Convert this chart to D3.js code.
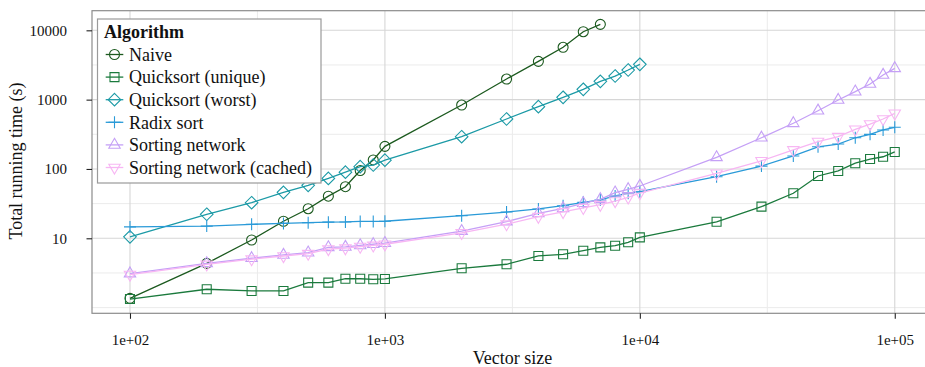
<!DOCTYPE html>
<html>
<head>
<meta charset="utf-8">
<script src="https://cdn.jsdelivr.net/npm/d3@7"></script>
<style>
  html, body { margin: 0; padding: 0; background: #fff; }
  svg { display: block; font-family: "Liberation Serif", "Times New Roman", serif; }
</style>
</head>
<body>
<svg id="chart" width="925" height="367"></svg>
<script>
// Vector sizes measured
const sizesSmall = [100, 200, 300, 400, 500, 600, 700, 800, 900, 1000,
  2000, 3000, 4000, 5000, 6000, 7000, 8000, 9000, 10000];
const sizesLarge = [20000, 30000, 40000, 50000, 60000, 70000, 80000, 90000, 100000];
const sizesAll = sizesSmall.concat(sizesLarge);
const sizesNaive = sizesSmall.slice(0, 16);   // up to 7000

// Total running time (s) per algorithm
const naive = [1.36, 4.35, 9.45, 17.6, 26.7, 40.5, 55.5, 95, 135, 212,
  836, 1983, 3570, 5690, 9550, 12200];
const quicksortUnique = [1.33, 1.84, 1.74, 1.74, 2.29, 2.29, 2.61, 2.61, 2.56, 2.59,
  3.69, 4.22, 5.56, 5.88, 6.62, 7.4, 7.82, 8.75, 10.3,
  17.3, 28.6, 44.6, 79.2, 93.6, 121, 139, 150, 176];
const quicksortWorst = [10.5, 22.2, 32.6, 46, 58, 73, 90, 108, 114, 134,
  292, 526, 791, 1081, 1410, 1837, 2191, 2675, 3234];
const radixSort = [14.6, 15.0, 15.9, 16.4, 16.8, 17.1, 17.2, 17.5, 17.5, 17.6,
  21.2, 23.9, 26.5, 29.5, 33, 35.7, 40.8, 44.6, 47,
  77.4, 110, 154, 209, 229, 282, 316, 365, 399];
const sortingNetwork = [3.1, 4.35, 5.15, 5.75, 6.2, 7.4, 7.5, 7.9, 8.2, 8.5,
  12.7, 17.4, 22.9, 27.1, 32, 36.5, 45.5, 50.9, 56.8,
  147, 282, 456, 692, 988, 1303, 1682, 2270, 2830];
const sortingNetworkCached = [3.0, 4.2, 5.0, 5.55, 6.0, 7.0, 7.2, 7.6, 7.9, 8.2,
  12.0, 16.0, 20.5, 24.0, 27.5, 30.5, 34.5, 39, 45,
  86.7, 131, 188, 248, 292, 373, 445, 526, 635];

const seriesNames = ["Naive", "Quicksort (unique)", "Quicksort (worst)",
  "Radix sort", "Sorting network", "Sorting network (cached)"];

const xTicks = [100, 1000, 10000, 100000];
const xTickLabels = ["1e+02", "1e+03", "1e+04", "1e+05"];
const yTicks = [10, 100, 1000, 10000];
const yTickLabels = ["10", "100", "1000", "10000"];

const series = [
  { name: seriesNames[0], xs: sizesNaive, ys: naive, color: "#1c5a1f", shape: "circle" },
  { name: seriesNames[1], xs: sizesAll, ys: quicksortUnique, color: "#1b7a3d", shape: "square" },
  { name: seriesNames[2], xs: sizesSmall, ys: quicksortWorst, color: "#1c9aa6", shape: "diamond" },
  { name: seriesNames[3], xs: sizesAll, ys: radixSort, color: "#2a9ad8", shape: "plus" },
  { name: seriesNames[4], xs: sizesAll, ys: sortingNetwork, color: "#c5a0f6", shape: "triUp" },
  { name: seriesNames[5], xs: sizesAll, ys: sortingNetworkCached, color: "#f7b6f3", shape: "triDown" }
];

const svg = d3.select("#chart");
const panel = { left: 92, top: 10.7, right: 933, bottom: 313.3 };

const x = d3.scaleLog()
  .domain([Math.pow(10, 1.851), Math.pow(10, 5.15)])
  .range([panel.left, panel.right]);
const y = d3.scaleLog()
  .domain([Math.pow(10, -0.082), Math.pow(10, 4.283)])
  .range([panel.bottom, panel.top]);

// Panel background
svg.append("rect")
  .attr("x", panel.left).attr("y", panel.top)
  .attr("width", panel.right - panel.left).attr("height", panel.bottom - panel.top)
  .attr("fill", "#fff");

// Grid lines: minor at half decades, major at decades
const xMinor = [2.5, 3.5, 4.5].map(e => Math.pow(10, e));
const yMinor = [0, 0.5, 1.5, 2.5, 3.5].map(e => Math.pow(10, e));
const grid = svg.append("g");
grid.selectAll(".xmin").data(xMinor).join("line")
  .attr("x1", d => x(d)).attr("x2", d => x(d))
  .attr("y1", panel.top).attr("y2", panel.bottom)
  .attr("stroke", "#ebebeb").attr("stroke-width", 1);
grid.selectAll(".ymin").data(yMinor).join("line")
  .attr("y1", d => y(d)).attr("y2", d => y(d))
  .attr("x1", panel.left).attr("x2", panel.right)
  .attr("stroke", "#ebebeb").attr("stroke-width", 1);
grid.selectAll(".xmaj").data(xTicks).join("line")
  .attr("x1", d => x(d)).attr("x2", d => x(d))
  .attr("y1", panel.top).attr("y2", panel.bottom)
  .attr("stroke", "#d6d6d6").attr("stroke-width", 1.1);
grid.selectAll(".ymaj").data(yTicks).join("line")
  .attr("y1", d => y(d)).attr("y2", d => y(d))
  .attr("x1", panel.left).attr("x2", panel.right)
  .attr("stroke", "#d6d6d6").attr("stroke-width", 1.1);

// Marker shapes
function markerPath(shape) {
  switch (shape) {
    case "circle": return d3.symbol(d3.symbolCircle, Math.PI * 25)();
    case "square": return "M-4.5,-4.5H4.5V4.5H-4.5Z";
    case "diamond": return "M0,-6.3L6.3,0L0,6.3L-6.3,0Z";
    case "plus": return "M-6,0H6M0,-6V6";
    case "triUp": return "M0,-6.6L5.7,3.3L-5.7,3.3Z";
    case "triDown": return "M0,6.6L5.7,-3.3L-5.7,-3.3Z";
  }
}

const clipId = "panel-clip";
svg.append("clipPath").attr("id", clipId).append("rect")
  .attr("x", panel.left).attr("y", panel.top)
  .attr("width", panel.right - panel.left).attr("height", panel.bottom - panel.top);

const plot = svg.append("g").attr("clip-path", `url(#${clipId})`);
const line = d3.line().x(d => x(d[0])).y(d => y(d[1]));

series.forEach(s => {
  const pts = s.xs.map((v, i) => [v, s.ys[i]]);
  const g = plot.append("g");
  g.append("path")
    .attr("d", line(pts))
    .attr("fill", "none").attr("stroke", s.color).attr("stroke-width", 1.3);
  g.selectAll("path.m").data(pts).join("path")
    .attr("class", "m")
    .attr("transform", d => `translate(${x(d[0])},${y(d[1])})`)
    .attr("d", markerPath(s.shape))
    .attr("fill", "none").attr("stroke", s.color).attr("stroke-width", 1.1);
});

// Panel border
svg.append("rect")
  .attr("x", panel.left).attr("y", panel.top)
  .attr("width", panel.right - panel.left).attr("height", panel.bottom - panel.top)
  .attr("fill", "none").attr("stroke", "#8c8c8c").attr("stroke-width", 1.2);

// Axes
const xAxis = d3.axisBottom(x).tickValues(xTicks)
  .tickFormat((d, i) => xTickLabels[i]).tickSize(5.5).tickPadding(16);
const gx = svg.append("g").attr("transform", `translate(0,${panel.bottom})`).call(xAxis);
gx.select(".domain").remove();
gx.selectAll(".tick line").attr("stroke", "#222").attr("stroke-width", 1.1);
gx.selectAll(".tick text").attr("fill", "#111").attr("font-size", 15)
  .attr("font-family", "Liberation Serif, serif");

const yAxis = d3.axisLeft(y).tickValues(yTicks)
  .tickFormat((d, i) => yTickLabels[i]).tickSize(5.5).tickPadding(19.5);
const gy = svg.append("g").attr("transform", `translate(${panel.left},0)`).call(yAxis);
gy.select(".domain").remove();
gy.selectAll(".tick line").attr("stroke", "#222").attr("stroke-width", 1.1);
gy.selectAll(".tick text").attr("fill", "#111").attr("font-size", 15)
  .attr("font-family", "Liberation Serif, serif");

// Axis titles
svg.append("text")
  .attr("x", (panel.left + panel.right) / 2).attr("y", 364)
  .attr("text-anchor", "middle").attr("font-size", 18).attr("fill", "#111")
  .text("Vector size");
svg.append("text")
  .attr("transform", "translate(22,161) rotate(-90)")
  .attr("text-anchor", "middle").attr("font-size", 18).attr("fill", "#111")
  .text("Total running time (s)");

// Legend
const legend = svg.append("g");
legend.append("rect")
  .attr("x", 97.5).attr("y", 19).attr("width", 223.5).attr("height", 164)
  .attr("fill", "#fff").attr("stroke", "#9a9a9a").attr("stroke-width", 1.2);
legend.append("text")
  .attr("x", 104).attr("y", 37.5).attr("font-size", 18).attr("font-weight", "bold")
  .attr("fill", "#111").text("Algorithm");
series.forEach((s, i) => {
  const cy = 54.5 + i * 22.6;
  const item = legend.append("g");
  item.append("line")
    .attr("x1", 105.7).attr("x2", 123.3).attr("y1", cy).attr("y2", cy)
    .attr("stroke", s.color).attr("stroke-width", 1.3);
  item.append("path")
    .attr("transform", `translate(114.5,${cy})`)
    .attr("d", markerPath(s.shape))
    .attr("fill", "none").attr("stroke", s.color).attr("stroke-width", 1.1);
  item.append("text")
    .attr("x", 129).attr("y", cy + 6.2).attr("font-size", 18).attr("fill", "#111")
    .text(s.name);
});
</script>
</body>
</html>
